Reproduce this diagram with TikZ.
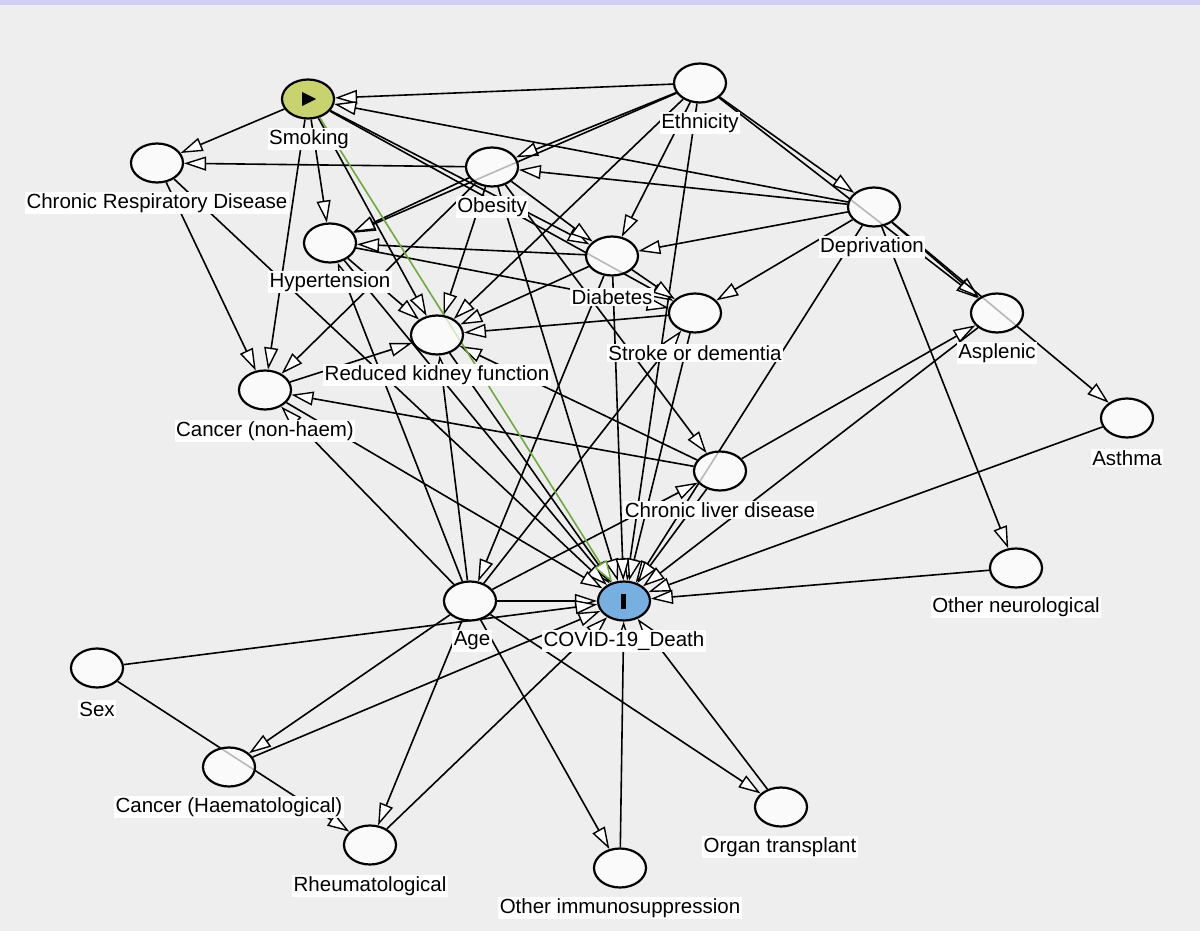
\documentclass[tikz,border=0pt]{standalone}
\usepackage{fontspec}
\setmainfont{Liberation Sans}
\usetikzlibrary{shapes.geometric,arrows.meta}
\pgfdeclarelayer{bglayer}
\pgfdeclarelayer{edges}
\pgfsetlayers{bglayer,edges,main}
\definecolor{bg}{RGB}{238,238,238}
\definecolor{topbar}{RGB}{208,208,246}
\definecolor{expo}{RGB}{200,210,110}
\definecolor{outc}{RGB}{120,175,225}
\definecolor{causal}{RGB}{110,170,60}
\tikzset{
  var/.style={ellipse, draw=black, line width=2.2pt, fill=white, fill opacity=0.72, text opacity=1, minimum width=52pt, minimum height=39pt, inner sep=0pt},
  lab/.style={fill=white, inner sep=1.5pt, font=\fontsize{20.5}{24}\selectfont},
  edge/.style={line width=1.6pt, -{Triangle[length=22pt,width=14pt,fill=white,line width=1.4pt]}},
  cedge/.style={edge, draw=causal},
}
\begin{document}
\begin{tikzpicture}[x=1pt,y=-1pt]
\useasboundingbox (0,0) rectangle (1200,931);
\begin{pgfonlayer}{bglayer}
\fill[bg] (0,0) rectangle (1200,931);
\fill[topbar] (0,0) rectangle (1200,5);
\end{pgfonlayer}
% nodes
\node[var, fill=expo, fill opacity=1] (smk) at (308,99) {};
\node[var] (eth) at (700,83) {};
\node[var] (crd) at (157,163) {};
\node[var] (obe) at (492,167) {};
\node[var] (dep) at (874,207) {};
\node[var] (hyp) at (330,243) {};
\node[var] (dia) at (612,256) {};
\node[var] (str) at (695,313) {};
\node[var] (asp) at (997,313) {};
\node[var] (kid) at (437,335) {};
\node[var] (cnh) at (265,390) {};
\node[var] (ast) at (1127,418) {};
\node[var] (cld) at (720,471) {};
\node[var] (onr) at (1016,568) {};
\node[var] (age) at (470,601) {};
\node[var, fill=outc, fill opacity=1] (cov) at (624,601) {};
\node[var] (sex) at (97,668) {};
\node[var] (chm) at (229,767) {};
\node[var] (org) at (781,807) {};
\node[var] (rhe) at (370,845) {};
\node[var] (oim) at (620,868) {};
\fill (302,92) -- (316,99) -- (302,106) -- cycle;
\fill (621,593.5) rectangle (626,608.5);
% edges
\begin{pgfonlayer}{edges}
\foreach \a/\b in {smk/crd, smk/hyp, smk/cnh, smk/kid, smk/dia, smk/str,
  eth/smk, eth/obe, eth/hyp, eth/dia, eth/kid, eth/cov, eth/dep, eth/asp,
  dep/smk, dep/obe, dep/dia, dep/str, dep/cov, dep/asp, dep/ast, dep/onr,
  obe/crd, obe/hyp, obe/dia, obe/kid, obe/cnh, obe/cld, obe/cov,
  hyp/str, hyp/kid, hyp/cov,
  dia/hyp, dia/str, dia/kid, dia/cov, dia/age,
  str/kid, str/cov, kid/cov, crd/cnh, crd/cov, cnh/kid, cnh/cov,
  cld/cnh, cld/kid, cld/asp, cld/cov,
  age/cov, age/chm, age/rhe, age/oim, age/org, age/cld, age/str, age/cnh, age/kid, age/hyp,
  sex/cov, sex/rhe, asp/cov, ast/cov, onr/cov, chm/cov, rhe/cov, oim/cov, org/cov}
  {\draw[edge] (\a) -- (\b);}
\draw[cedge] (smk) -- (cov);
\end{pgfonlayer}
% labels
\node[lab] (smkL) at (309,139) {Smoking};
\node[lab] (ethL) at (700,123) {Ethnicity};
\node[lab] (crdL) at (157,203) {Chronic Respiratory Disease};
\node[lab] (obeL) at (492,207) {Obesity};
\node[lab] (depL) at (872,247) {Deprivation};
\node[lab] (hypL) at (330,282) {Hypertension};
\node[lab] (diaL) at (612,297) {Diabetes};
\node[lab] (strL) at (695,353) {Stroke or dementia};
\node[lab] (aspL) at (997,353) {Asplenic};
\node[lab] (kidL) at (437,375) {Reduced kidney function};
\node[lab] (cnhL) at (265,431) {Cancer (non-haem)};
\node[lab] (astL) at (1127,458) {Asthma};
\node[lab] (cldL) at (720,510) {Chronic liver disease};
\node[lab] (onrL) at (1016,607) {Other neurological};
\node[lab] (ageL) at (472,641) {Age};
\node[lab] (covL) at (624,641) {COVID-19\_Death};
\node[lab] (sexL) at (97,709) {Sex};
\node[lab] (chmL) at (229,807) {Cancer (Haematological)};
\node[lab] (orgL) at (780,847) {Organ transplant};
\node[lab] (rheL) at (370,886) {Rheumatological};
\node[lab] (oimL) at (620,908) {Other immunosuppression};
\end{tikzpicture}
\end{document}
